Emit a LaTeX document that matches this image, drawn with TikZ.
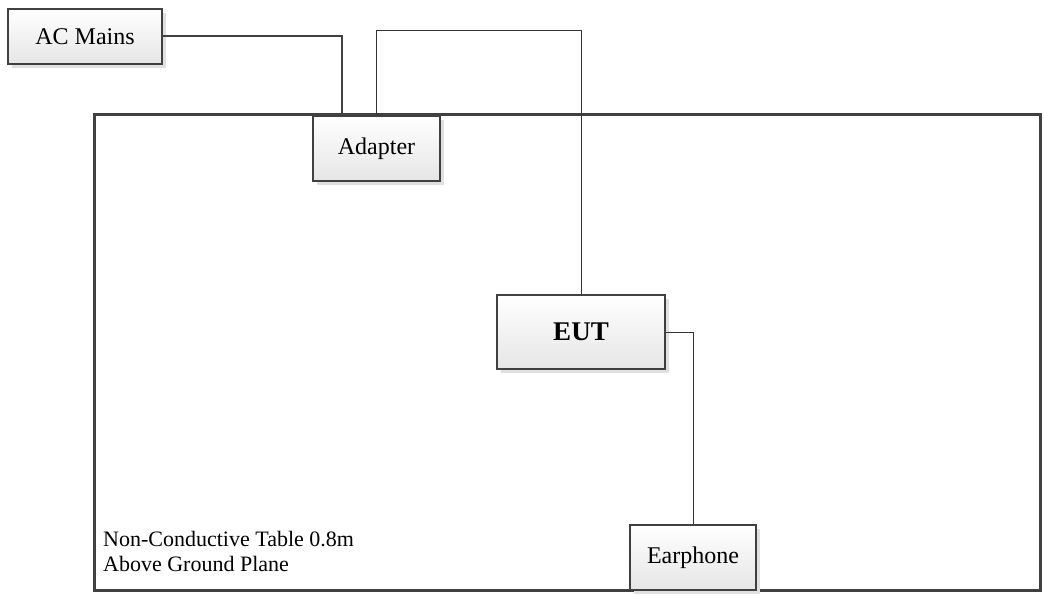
\documentclass[tikz,border=0pt]{standalone}
\usepackage{fontspec}
\setmainfont{Liberation Serif}
\usetikzlibrary{shadows}
\tikzset{
  unit/.style={draw=black!75, line width=2pt, top color=white, bottom color=black!10,
    drop shadow={shadow xshift=4pt, shadow yshift=-4pt, fill=black!12, opacity=1},
    inner sep=0pt, font=\fontsize{24}{28}\selectfont},
  cable/.style={draw=black!80, line width=1pt},
  mains/.style={draw=black!75, line width=2pt}
}
\begin{document}
\begin{tikzpicture}[x=1pt,y=-1pt]
			\useasboundingbox (0,0) rectangle (1044,596);
			% table
			\node[draw=black!75, line width=3pt, minimum width=946pt, minimum height=475pt, inner sep=0pt] (table) at (567,352.5) {};
			\node[anchor=west, align=left, font=\fontsize{22}{25}\selectfont, inner sep=0pt] (note) at (103,551) {Non-Conductive Table 0.8m\\Above Ground Plane};
			\coordinate (drop) at (342,115);
			% units
			\node[unit, minimum width=154pt, minimum height=55pt] (ac) at (85,36.5) {AC Mains};
			\draw[mains] (ac.east) -| (drop);
			\node[unit, minimum width=168pt, minimum height=74pt, font=\fontsize{27}{30}\selectfont\bfseries] (eut) at (581,332) {EUT};
			\node[unit, minimum width=127pt, minimum height=65pt] (adapter) at (376.5,148.5) {Adapter};
			\node[unit, minimum width=126pt, minimum height=65pt] (phone) at (693,557.5) {Earphone};
			% cables
			\draw[cable] (adapter.north) -- ++(0,-84) -| (eut.north);
			\draw[cable] (eut.east) -| (phone.north);
\end{tikzpicture}
\end{document}
